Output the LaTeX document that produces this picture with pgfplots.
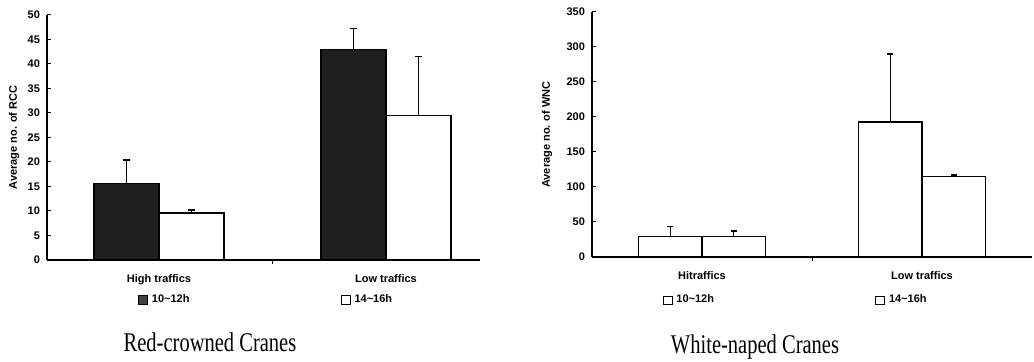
\documentclass[border=0pt]{standalone}
\usepackage{fontspec}
\setmainfont{Liberation Sans}
\newfontfamily\titlefont[FakeStretch=0.76]{Liberation Serif}
\usepackage{pgfplots}
\pgfplotsset{compat=1.18}
\begin{document}
\begin{tikzpicture}
\path[use as bounding box] (0,0) rectangle (517pt,-181pt);
\pgfplotsset{
  crane/.style={
    scale only axis,
    height=122.5pt,
    axis lines=left,
    axis line style={-, line width=0.6pt},
    ybar=0pt,
    ymin=0,
    xtick={0,1},
    extra x ticks={0.5},
    extra x tick labels={},
    extra x tick style={major tick length=2pt, tick align=outside},
    tick align=inside,
    major tick length=2pt,
    tick style={black, line width=0.5pt},
    ticklabel style={font=\fontsize{5.5}{6}\selectfont\bfseries},
    /pgf/number format/assume math mode=true,
    ylabel style={font=\fontsize{5.5}{6}\selectfont\bfseries, anchor=center},
    xticklabel style={yshift=-3.5pt},
    legend style={draw=none, fill=none, font=\fontsize{5.5}{6}\selectfont\bfseries,
      legend columns=2, anchor=north west,
      /tikz/every even column/.append style={column sep=0pt},
      inner sep=0pt, row sep=0pt},
    legend cell align=left,
    error bars/y dir=plus,
    error bars/y explicit,
    error bars/error bar style={line width=0.6pt, black},
    error bars/error mark options={rotate=90, mark size=1.6pt, line width=0.6pt, black},
  },
}
% Left: Red-crowned Cranes
\begin{axis}[crane,
  at={(23.5pt,-130pt)}, anchor=south west,
  width=216.5pt,
  xmin=-0.493, xmax=1.414,
  ymax=50, ytick={0,5,...,50},
  bar width=32.5pt,
  xticklabels={High traffics, Low traffics},
  ylabel={Average no. of RCC},
  ylabel style={at={(axis description cs:-0.076,0.5)}},
  legend style={at={(axis description cs:0.21,-0.122)}},
  legend image code/.code={\draw[line width=0.4pt,fill=black!75] (0pt,-2.2pt) rectangle (4.4pt,2.2pt);},
]
\addplot[draw=black, line width=0.7pt, fill=black!88]
  coordinates {(0,15.6) +- (0,4.8) (1,43.0) +- (0,4.2)};
\addplot[draw=black, line width=0.7pt, fill=white,
  legend image code/.code={\draw[line width=0.4pt,fill=white] (0pt,-2.2pt) rectangle (4.4pt,2.2pt);}]
  coordinates {(0,9.6) +- (0,0.6) (1,29.5) +- (0,12.0)};
\legend{\makebox[92.5pt][l]{10\textasciitilde12h}, 14\textasciitilde16h}
\end{axis}
\node[font=\titlefont\fontsize{13.5}{15}\selectfont, anchor=base] at (105pt,-176pt) {Red-crowned Cranes};
% Right: White-naped Cranes
\begin{axis}[crane,
  at={(296pt,-128.5pt)}, anchor=south west,
  width=220pt,
  xmin=-0.5, xmax=1.5,
  ymax=350, ytick={0,50,...,350},
  bar width=31.75pt,
  xticklabels={Hitraffics, Low traffics},
  ylabel={Average no. of WNC},
  ylabel style={at={(axis description cs:-0.102,0.5)}},
  legend style={at={(axis description cs:0.16,-0.137)}},
  legend image code/.code={\draw[line width=0.4pt,fill=white] (0pt,-2.2pt) rectangle (4.4pt,2.2pt);},
]
\addplot[draw=black, line width=0.7pt, fill=white]
  coordinates {(0,29) +- (0,15) (1,193) +- (0,97)};
\addplot[draw=black, line width=0.7pt, fill=white]
  coordinates {(0,29) +- (0,8) (1,115) +- (0,2)};
\legend{\makebox[97.5pt][l]{10\textasciitilde12h}, 14\textasciitilde16h}
\end{axis}
\node[font=\titlefont\fontsize{13.5}{15}\selectfont, anchor=base] at (377.5pt,-177pt) {White-naped Cranes};
\end{tikzpicture}
\end{document}
